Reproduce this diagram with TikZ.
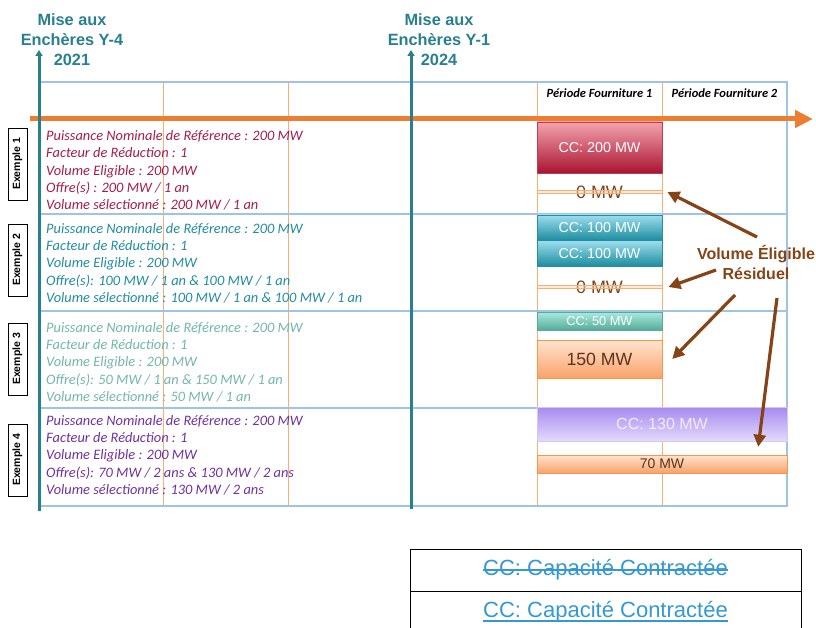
\documentclass[tikz,border=0pt]{standalone}
\usepackage{fontspec}
\setmainfont{Liberation Sans}
\newfontfamily\calib{Carlito}
\usepackage{tikz}
\usetikzlibrary{positioning,arrows.meta}

\definecolor{tealax}{RGB}{38,128,142}
\definecolor{gridblue}{RGB}{157,195,230}
\definecolor{gridorange}{RGB}{247,176,116}
\definecolor{timeorange}{RGB}{237,125,49}
\definecolor{redtext}{RGB}{165,28,72}
\definecolor{tealtext}{RGB}{32,140,160}
\definecolor{minttext}{RGB}{112,182,172}
\definecolor{purpletext}{RGB}{112,48,160}
\definecolor{brownarrow}{RGB}{133,67,22}
\definecolor{zerobrown}{RGB}{125,68,32}
\definecolor{darkbrown}{RGB}{90,52,32}
\definecolor{legendblue}{RGB}{52,152,212}

\begin{document}
\begin{tikzpicture}[x=1pt,y=-1pt,
  title/.style={font=\bfseries\fontsize{16.3}{20}\selectfont, text=tealax, align=center},
  period/.style={font=\calib\bfseries\itshape\fontsize{12.5}{14}\selectfont},
  example/.style={draw, line width=0.8pt, rotate=90, minimum width=72pt, minimum height=19pt, inner sep=0pt, font=\bfseries\fontsize{10.5}{12}\selectfont},
  rowtext/.style={anchor=north west, align=left, inner sep=0pt, font=\calib\itshape\fontsize{14.4}{17.3}\selectfont},
  ccbox/.style={minimum width=125pt, inner sep=0pt, line width=0.5pt},
  redbox/.style={ccbox, top color={rgb,255:red,243;green,163;blue,173}, bottom color={rgb,255:red,170;green,20;blue,50}, draw={rgb,255:red,190;green,60;blue,80}, text=white},
  tealbox/.style={ccbox, top color={rgb,255:red,158;green,222;blue,238}, bottom color={rgb,255:red,28;green,142;blue,160}, draw={rgb,255:red,40;green,140;blue,160}, text=white},
  mintbox/.style={ccbox, top color={rgb,255:red,170;green,234;blue,222}, bottom color={rgb,255:red,84;green,172;blue,152}, draw={rgb,255:red,90;green,170;blue,150}, text=white},
  orangebox/.style={ccbox, top color={rgb,255:red,255;green,228;blue,208}, bottom color={rgb,255:red,249;green,162;blue,104}, draw={rgb,255:red,247;green,150;blue,70}, text=darkbrown},
  purplebox/.style={ccbox, minimum width=250pt, top color={rgb,255:red,166;green,138;blue,240}, bottom color={rgb,255:red,228;green,218;blue,250}, draw={rgb,255:red,210;green,200;blue,245}, text={rgb,255:red,240;green,236;blue,252}},
  zerotext/.style={font=\fontsize{18}{20}\selectfont, text=zerobrown},
  zeroband/.style={minimum width=125pt, minimum height=3.5pt, inner sep=0pt, fill={rgb,255:red,252;green,214;blue,182}, fill opacity=0.5, draw=gridorange, line width=0.8pt},
  axis/.style={draw=tealax, line width=3pt, -{Triangle[length=6pt,width=7pt]}},
  timeline/.style={draw=timeorange, line width=5pt, -{Triangle[length=18pt,width=17pt]}},
  brownarr/.style={draw=brownarrow, line width=3.2pt, -{Triangle[length=12pt,width=12pt]}},
  legend/.style={draw, line width=1pt, minimum width=391pt, minimum height=42pt, outer sep=0pt},
  legtext/.style={inner sep=0pt, text=legendblue, font=\fontsize{22}{24}\selectfont},
  legline/.style={draw=legendblue, line width=1.8pt}
]
\useasboundingbox (0,0) rectangle (816,628);

% grid
\foreach \x in {163,288,537,662} \draw[gridorange, line width=1pt] (\x,82) -- (\x,506);
\draw[gridblue, line width=1.2pt] (39,82) rectangle (787,506);
\foreach \y in {214,311,408} \draw[gridblue, line width=1.2pt] (39,\y) -- (787,\y);

\coordinate (tl0) at (30,119); \coordinate (tl1) at (813,119);
\draw[timeline] (tl0) -- (tl1);

\coordinate (ax1b) at (39,511); \coordinate (ax1t) at (39,50);
\coordinate (ax2b) at (411,509); \coordinate (ax2t) at (411,50);
\draw[axis] (ax1b) -- (ax1t);
\draw[axis] (ax2b) -- (ax2t);

\node[title] (y4) at (72,40) {Mise aux\\Enchères Y-4\\2021};
\node[title] (y1) at (439,40) {Mise aux\\Enchères Y-1\\2024};

\node[period] (p1) at (599.5,93) {Période Fourniture 1};
\node[period] (p2) at (724.5,93) {Période Fourniture 2};

\node[example] (ex1) at (17.5,164) {Exemple 1};
\node[example] (ex2) at (17.5,260) {Exemple 2};
\node[example] (ex3) at (17.5,359) {Exemple 3};
\node[example] (ex4) at (17.5,460) {Exemple 4};

\node[rowtext, text=redtext] (row1) at (46,130.5) {Puissance Nominale de Référence : 200 MW\\Facteur de Réduction : 1\\Volume Eligible : 200 MW\\Offre(s) : 200 MW / 1 an\\Volume sélectionné : 200 MW / 1 an};
\node[rowtext, text=tealtext] (row2) at (46,223) {Puissance Nominale de Référence : 200 MW\\Facteur de Réduction : 1\\Volume Eligible : 200 MW\\Offre(s): 100 MW / 1 an \& 100 MW / 1 an\\Volume sélectionné : 100 MW / 1 an \& 100 MW / 1 an};
\node[rowtext, text=minttext] (row3) at (46,322) {Puissance Nominale de Référence : 200 MW\\Facteur de Réduction : 1\\Volume Eligible : 200 MW\\Offre(s): 50 MW / 1 an \& 150 MW / 1 an\\Volume sélectionné : 50 MW / 1 an};
\node[rowtext, text=purpletext] (row4) at (46,415) {Puissance Nominale de Référence : 200 MW\\Facteur de Réduction : 1\\Volume Eligible : 200 MW\\Offre(s): 70 MW / 2 ans \& 130 MW / 2 ans\\Volume sélectionné : 130 MW / 2 ans};

% periode 1 / 2
\node[redbox, minimum height=51pt, font=\fontsize{14.3}{16}\selectfont] (cc200) at (599.5,147.5) {CC: 200 MW};
\node[zerotext] (zero1) at (599.5,192) {0 MW};
\node[zeroband] (band1) at (zero1) {};

\node[tealbox, minimum height=25pt, font=\fontsize{14.3}{16}\selectfont] (cc100a) at (599.5,227.5) {CC: 100 MW};
\node[tealbox, minimum height=25.5pt, font=\fontsize{14.3}{16}\selectfont, below=0pt of cc100a] (cc100b) {CC: 100 MW};
\node[zerotext] (zero2) at (599.5,287) {0 MW};
\node[zeroband] (band2) at (zero2) {};

\node[mintbox, minimum height=18pt, font=\fontsize{12.8}{14}\selectfont] (cc50) at (599.5,321) {CC: 50 MW};
\node[orangebox, minimum height=38pt, font=\fontsize{17.7}{20}\selectfont] (mw150) at (599.5,359) {150 MW};

\node[purplebox, minimum height=34pt, font=\fontsize{16}{18}\selectfont] (cc130) at (662,424) {CC: 130 MW};
\node[orangebox, minimum width=250pt, minimum height=18pt, font=\fontsize{14}{16}\selectfont] (mw70) at (662,464) {70 MW};

\node[align=center, text=brownarrow, font=\bfseries\fontsize{16}{20}\selectfont] (vol) at (756,262) {Volume Éligible\\Résiduel};
\coordinate (t1) at (757,237); \coordinate (t2) at (716,270);
\coordinate (t3) at (735,295); \coordinate (t4) at (777,298);
\draw[brownarr] (t1) -- ([xshift=5pt]band1.east);
\draw[brownarr] (t2) -- ([xshift=6pt]band2.east);
\draw[brownarr] (t3) -- ([xshift=10pt]mw150.east);
\draw[brownarr] (t4) -- ([xshift=-29pt,yshift=8pt]mw70.north east);

\node[legend] (leg1) at (605.5,570) {};
\node[legend, below=0pt of leg1] (leg2) {};
\node[legtext] (lt1) at (leg1) {CC: Capacité Contractée};
\node[legtext] (lt2) at (leg2) {CC: Capacité Contractée};
\draw[legline] ([yshift=6pt]lt1.base west) -- ([yshift=6pt]lt1.base east);
\draw[legline] ([yshift=-3.5pt]lt2.base west) -- ([yshift=-3.5pt]lt2.base east);
\end{tikzpicture}
\end{document}
